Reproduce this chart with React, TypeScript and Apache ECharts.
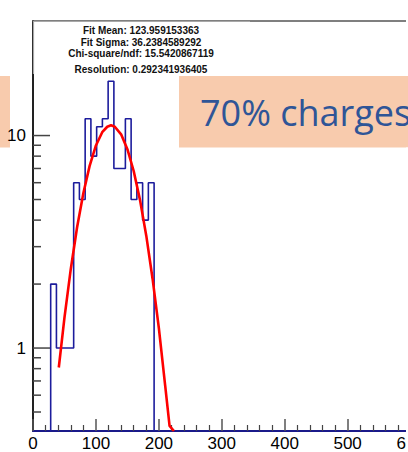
import React, { useEffect, useRef } from "react";
import * as echarts from "echarts";

// Histogram (counts per bin)
const binStart = 28.1;
const binWidth = 9.13;
const counts = [2, 1, 1, 1, 6, 5, 12, 8, 11, 12, 18, 7, 7, 12, 5, 6, 4, 6];

// Fit curve samples
const fitX = [41, 50, 60, 70, 80, 90, 100, 110, 118, 124, 130, 140, 150, 160, 170, 180, 190, 200, 210, 217, 224];
const fitY = [0.81, 1.39, 2.35, 3.69, 5.35, 7.2, 8.98, 10.37, 11.0, 11.17, 11.0, 10.13, 8.63, 6.81, 4.98, 3.38, 2.12, 1.24, 0.667, 0.43, 0.407];

// Axes
const xMin = 0;
const xMax = 650;
const xInterval = 100;
const yMin = 0.407;
const yMax = 34.6;
const yMajorTicks = [1, 10];
const yMinorTicks = [0.5, 0.6, 0.7, 0.8, 0.9, 2, 3, 4, 5, 6, 7, 8, 9, 20, 30];

// Texts
const statsLines = [
  "Fit Mean: 123.959153363",
  "Fit Sigma: 36.2384589292",
  "Chi-square/ndf: 15.5420867119",
  "Resolution: 0.292341936405",
];
const slideText = "70% charges";

export default function App() {
  const ref = useRef<HTMLDivElement>(null);
  useEffect(() => {
    if (!ref.current) return;
    const chart = echarts.init(ref.current, undefined, { renderer: "svg" });

    const edges = counts.map((_, i) => binStart + i * binWidth).concat([binStart + counts.length * binWidth]);
    const histData: number[][] = [[edges[0], yMin]];
    counts.forEach((c, i) => {
      histData.push([edges[i], c]);
      histData.push([edges[i + 1], c]);
    });
    histData.push([edges[edges.length - 1], yMin]);

    const fitData = fitX.map((x, i) => [x, fitY[i]]);
    const tickData = yMajorTicks.map((v) => [0, v, 1]).concat(yMinorTicks.map((v) => [0, v, 0]));

    const statsY = [30, 42, 53.5, 69];
    const font = "'Liberation Sans', Arial, Helvetica, sans-serif";

    chart.setOption({
      animation: false,
      backgroundColor: "#ffffff",
      grid: { left: 33, top: 21, width: xMax * 0.6293, height: 415, containLabel: false },
      xAxis: [
        {
          type: "value",
          min: xMin,
          max: xMax,
          interval: xInterval,
          axisLine: { show: true, lineStyle: { color: "#1a1a8a", width: 2 } },
          axisTick: { show: true, inside: true, length: 12, lineStyle: { color: "#555", width: 1.5 } },
          minorTick: { show: true, splitNumber: 5, length: 6, lineStyle: { color: "#444", width: 1.2 } },
          splitLine: { show: false },
          axisLabel: { show: true, color: "#000", fontSize: 17, fontFamily: font, margin: 4, showMaxLabel: false },
        },
        {
          type: "value",
          position: "top",
          min: xMin,
          max: xMax,
          interval: xInterval,
          axisLine: { show: true, lineStyle: { color: "#555", width: 1.5 } },
          axisTick: { show: false },
          axisLabel: { show: false },
          splitLine: { show: false },
        },
      ],
      yAxis: {
        type: "log",
        logBase: 10,
        min: yMin,
        max: yMax,
        axisLine: { show: true, lineStyle: { color: "#222", width: 2 } },
        axisTick: { show: false },
        minorTick: { show: false },
        splitLine: { show: false },
        axisLabel: {
          show: true,
          color: "#000",
          fontSize: 17,
          fontFamily: font,
          margin: 7,
          showMinLabel: false,
          showMaxLabel: false,
          formatter: (v: number) => (Math.abs(v - 1) < 1e-6 ? "1" : Math.abs(v - 10) < 1e-5 ? "10" : ""),
        },
      },
      series: [
        {
          type: "custom",
          coordinateSystem: "cartesian2d",
          silent: true,
          clip: false,
          z: 1,
          data: tickData,
          renderItem: (params: any, api: any) => {
            const p = api.coord([0, api.value(1)]);
            const len = api.value(2) === 1 ? 17 : 8;
            return {
              type: "line",
              shape: { x1: p[0], y1: p[1], x2: p[0] + len, y2: p[1] },
              style: { stroke: "#444", lineWidth: 1.5 },
            };
          },
        },
        {
          type: "line",
          data: histData,
          symbol: "none",
          clip: true,
          z: 3,
          lineStyle: { color: "#1c1c9c", width: 1.6 },
        },
        {
          type: "line",
          data: fitData,
          symbol: "none",
          clip: true,
          z: 4,
          lineStyle: { color: "#ff0000", width: 2.6 },
        },
      ],
      graphic: [
        { type: "rect", z: -1, shape: { x: -5, y: 76, width: 15, height: 71.5 }, style: { fill: "#F8CBAD" } },
        { type: "rect", z: 100, shape: { x: 34, y: 21, width: 216, height: 53 }, style: { fill: "#ffffff" } },
        { type: "line", z: 101, shape: { x1: 33, y1: 21.5, x2: 250, y2: 21.5 }, style: { stroke: "#a8a8a8", lineWidth: 1.2 } },
        { type: "line", z: 101, shape: { x1: 33.5, y1: 21, x2: 33.5, y2: 74 }, style: { stroke: "#a8a8a8", lineWidth: 1.2 } },
        ...statsLines.map((t, i) => ({
          type: "text",
          z: 102,
          x: 141,
          y: statsY[i],
          style: {
            text: t,
            fill: "#111",
            font: `bold 10px ${font}`,
            align: "center",
            verticalAlign: "middle",
          },
        })),
        { type: "rect", z: 100, shape: { x: 179, y: 76, width: 260, height: 71.5 }, style: { fill: "#F8CBAD" } },
        {
          type: "text",
          z: 102,
          x: 200,
          y: 112,
          style: {
            text: slideText,
            fill: "#2F5597",
            font: `36px 'Open Sans', sans-serif`,
            align: "left",
            verticalAlign: "middle",
          },
        },
        { type: "rect", z: 110, shape: { x: 406, y: 0, width: 80, height: 76 }, style: { fill: "#ffffff" } },
        { type: "rect", z: 110, shape: { x: 406, y: 147.5, width: 80, height: 310 }, style: { fill: "#ffffff" } },
      ],
    });
    return () => chart.dispose();
  }, []);

  return (
    <div style={{ position: "fixed", left: 0, top: 0, width: 408, height: 452, overflow: "hidden", background: "#fff" }}>
      <div ref={ref} style={{ width: 480, height: 452 }} />
    </div>
  );
}
